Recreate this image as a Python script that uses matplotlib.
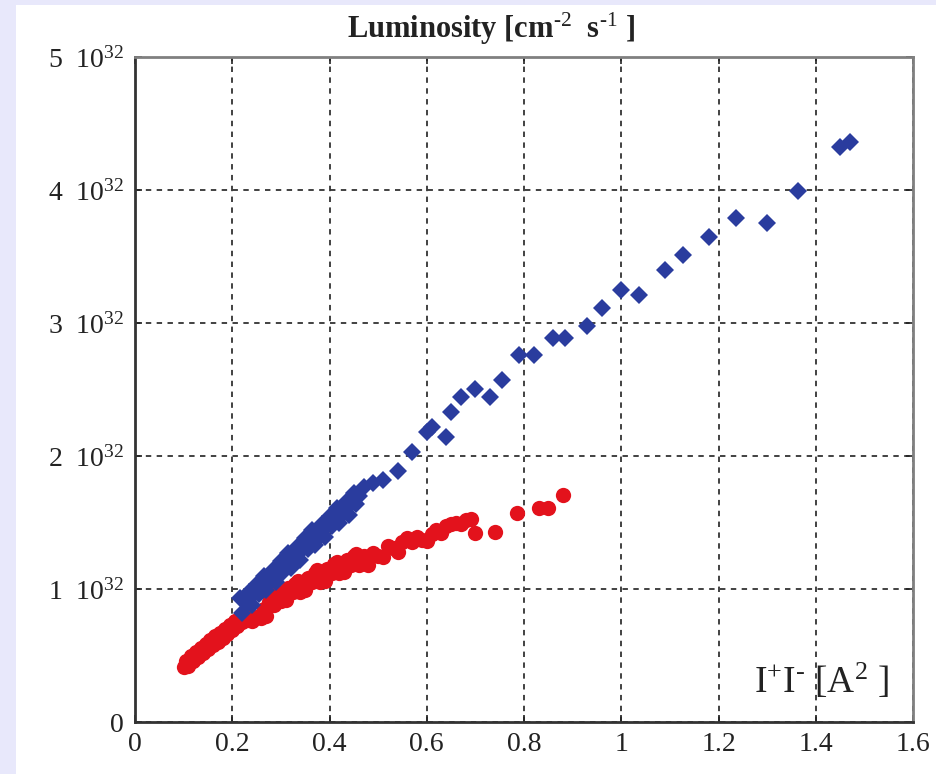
import numpy as np
import matplotlib
matplotlib.use('Agg')
import matplotlib.pyplot as plt
from matplotlib.patches import Rectangle

plt.rcParams['font.family'] = ['Liberation Serif', 'DejaVu Serif']
plt.rcParams['mathtext.fontset'] = 'custom'
plt.rcParams['mathtext.rm'] = 'Liberation Serif'
plt.rcParams['mathtext.it'] = 'Liberation Serif:italic'
plt.rcParams['mathtext.bf'] = 'Liberation Serif:bold'

# === luminosity vs current product (x: I+I- in A^2, y: units of 1e32) ===
red_x = [0.100, 0.105, 0.110, 0.115, 0.120, 0.125, 0.130, 0.135, 0.140, 0.145,
         0.150, 0.155, 0.160, 0.165, 0.170, 0.175, 0.180, 0.185, 0.190, 0.195,
         0.200, 0.205, 0.210, 0.215, 0.220, 0.225, 0.230, 0.235, 0.240,
         0.255, 0.260, 0.265, 0.270, 0.275, 0.280, 0.285, 0.290, 0.295, 0.300,
         0.305, 0.310, 0.315, 0.320, 0.325, 0.330, 0.335, 0.340, 0.345, 0.350,
         0.355, 0.360, 0.365, 0.370, 0.375, 0.380, 0.385, 0.390, 0.395, 0.400,
         0.405, 0.410, 0.415, 0.420, 0.425, 0.430, 0.435, 0.440, 0.445, 0.450,
         0.455, 0.460, 0.470, 0.480, 0.490, 0.500, 0.510, 0.520, 0.530, 0.540,
         0.550, 0.560, 0.570, 0.580, 0.590, 0.600, 0.610, 0.620, 0.630, 0.640,
         0.650, 0.660, 0.670, 0.680, 0.690, 0.700, 0.740, 0.785, 0.830, 0.850,
         0.880]
red_y = [0.41, 0.46, 0.42, 0.50, 0.46, 0.53, 0.49, 0.56, 0.52, 0.59,
         0.55, 0.62, 0.58, 0.65, 0.60, 0.67, 0.63, 0.70, 0.66, 0.73,
         0.69, 0.76, 0.72, 0.79, 0.75, 0.82, 0.77, 0.80, 0.76,
         0.80, 0.78, 0.85, 0.80, 0.90, 0.88, 0.88, 0.96, 0.98, 0.91,
         0.98, 0.92, 1.01, 0.99, 0.98, 1.04, 1.06, 0.98, 1.05, 0.99,
         1.08, 1.06, 1.05, 1.12, 1.14, 1.05, 1.12, 1.06, 1.15, 1.13,
         1.12, 1.19, 1.20, 1.12, 1.19, 1.13, 1.22, 1.19, 1.18, 1.25,
         1.26, 1.18, 1.25, 1.18, 1.27, 1.25, 1.24, 1.32, 1.31, 1.28,
         1.35, 1.38, 1.35, 1.39, 1.37, 1.36, 1.41, 1.44, 1.42, 1.47,
         1.49, 1.50, 1.49, 1.52, 1.53, 1.42, 1.43, 1.57, 1.61, 1.61,
         1.71]

blue_x = [0.215, 0.220, 0.225, 0.230, 0.235, 0.240, 0.245, 0.250, 0.255, 0.260,
          0.265, 0.270, 0.275, 0.280, 0.285, 0.290, 0.295, 0.300, 0.305, 0.310,
          0.315, 0.320, 0.325, 0.330, 0.335, 0.340, 0.345, 0.350, 0.355, 0.360,
          0.365, 0.370, 0.375, 0.380, 0.385, 0.390, 0.395, 0.400, 0.405, 0.410,
          0.415, 0.420, 0.425, 0.430, 0.435, 0.440, 0.445, 0.450, 0.455, 0.460,
          0.470, 0.490, 0.510, 0.540, 0.570, 0.600, 0.610, 0.640, 0.650, 0.670,
          0.700, 0.730, 0.755, 0.790, 0.820, 0.860, 0.885, 0.930, 0.960, 1.000,
          1.036, 1.090, 1.128, 1.180, 1.235, 1.300, 1.364, 1.450, 1.470]
blue_y = [0.93, 0.82, 0.92, 0.89, 0.98, 0.88, 0.96, 1.04, 0.96, 1.02,
          1.10, 0.99, 1.09, 1.06, 1.15, 1.05, 1.13, 1.21, 1.13, 1.19,
          1.27, 1.16, 1.26, 1.23, 1.32, 1.22, 1.30, 1.38, 1.30, 1.36,
          1.44, 1.33, 1.43, 1.40, 1.49, 1.39, 1.47, 1.55, 1.47, 1.53,
          1.61, 1.50, 1.60, 1.57, 1.66, 1.56, 1.64, 1.72, 1.64, 1.70,
          1.77, 1.80, 1.82, 1.89, 2.03, 2.18, 2.22, 2.14, 2.33, 2.44,
          2.50, 2.44, 2.57, 2.76, 2.76, 2.89, 2.89, 2.98, 3.11, 3.25,
          3.21, 3.40, 3.51, 3.65, 3.79, 3.75, 3.99, 4.32, 4.36]

x_ticks = [0, 0.2, 0.4, 0.6, 0.8, 1, 1.2, 1.4, 1.6]
x_tick_labels = ['0', '0.2', '0.4', '0.6', '0.8', '1', '1.2', '1.4', '1.6']
y_ticks = [0, 1, 2, 3, 4, 5]
y_tick_labels = ['0', r'1  10$^{32}$', r'2  10$^{32}$', r'3  10$^{32}$',
                 r'4  10$^{32}$', r'5  10$^{32}$']

fig = plt.figure(figsize=(9.36, 7.74), dpi=100, facecolor='#e8e8fb')
# white page behind the plot
fig.patches.append(Rectangle((16 / 936, 0), 1 - 16 / 936, 1 - 5 / 774,
                             transform=fig.transFigure, facecolor='white',
                             edgecolor='none', zorder=-10))

ax = fig.add_axes([135 / 936, 1 - 722 / 774, 778 / 936, 665 / 774])
ax.set_zorder(5)
ax.set_xlim(0, 1.6)
ax.set_ylim(0, 5)

ax.grid(True, color='#333333', linestyle=(0, (3, 3)), linewidth=1.3)
ax.set_axisbelow(True)

ax.plot(red_x, red_y, 'o', color='#e3121c', markersize=11, markeredgewidth=0, zorder=3)
ax.plot(blue_x, blue_y, 'D', color='#2a3c9e', markersize=9, markeredgewidth=0, zorder=4)

ax.set_xticks(x_ticks)
ax.set_xticklabels(x_tick_labels)
ax.set_yticks(y_ticks)
ax.set_yticklabels(y_tick_labels)
ax.tick_params(direction='in', length=5, width=1.2, top=True, right=True,
               labelsize=20, pad=8, colors='#222222')
ax.tick_params(axis='x', pad=7)

for side in ['left', 'bottom']:
    ax.spines[side].set_color('#333333')
    ax.spines[side].set_linewidth(2)
for side in ['top', 'right']:
    ax.spines[side].set_color('#808080')
    ax.spines[side].set_linewidth(2)

fig.text(491 / 936, 1 - 38 / 774, r'Luminosity [cm$^{\text{-}2}$  s$^{\text{-}1}$ ]',
         fontsize=22, fontweight='bold', ha='center', va='baseline', color='#222222')
ax.text(1.272, 0.22, r'I$^{+}$I$^{\text{-}}$ [A$^{2}$ ]', fontsize=27, color='#222222')

plt.savefig('out.png', dpi=100, facecolor=fig.get_facecolor())
